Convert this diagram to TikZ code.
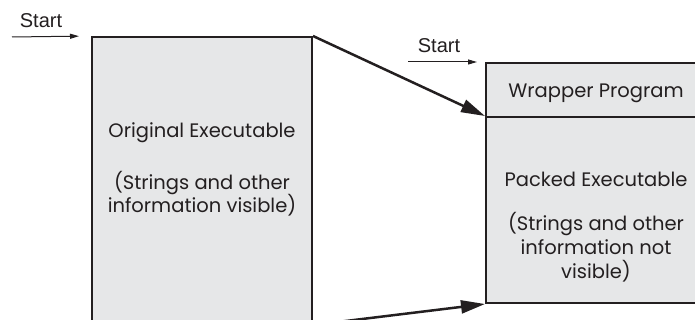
\documentclass[tikz,border=0pt]{standalone}
\usepackage{fontspec}
\setmainfont{Poppins}
\newfontfamily\startfont{Liberation Sans}
\usetikzlibrary{arrows.meta}

\definecolor{boxgray}{HTML}{E6E7E8}
\definecolor{ink}{HTML}{231F20}

\tikzset{
	exebox/.style={rectangle,draw=ink,fill=boxgray,line width=2pt,inner sep=0pt,minimum width=220pt},
	boxtext/.style={anchor=base,align=center,text=ink,font=\fontsize{19.5}{24}\selectfont},
	starttext/.style={anchor=base,text=ink,font=\startfont\fontsize{20}{22}\selectfont},
	startarrow/.style={draw=ink,line width=1pt,-{Triangle[length=9pt,width=5pt]}},
	bigarrow/.style={draw=ink,line width=2.5pt,-{Triangle[length=24pt,width=13pt]}}
}

\begin{document}
\begin{tikzpicture}[x=1pt,y=-1pt]
				\useasboundingbox (0,0) rectangle (695,320);
				\clip (0,0) rectangle (695,320);
				
				\node (orig) at (202,180.5) [exebox,minimum height=287pt] {};
				\node (wrap) at (596,90) [exebox,minimum height=54pt] {};
				\node (packed) at (596,210) [exebox,minimum height=186pt] {};
				
				% multi-line texts sit on the baseline of their last line
				\node (origtitle) at (202,138) [boxtext] {Original Executable};
				\node (originfo) at (202,213) [boxtext] {(Strings and other\\information visible)};
				\node (wraptitle) at (596,98) [boxtext] {Wrapper Program};
				\node (packedtitle) at (596,187) [boxtext] {Packed Executable};
				\node (packedinfo) at (596,278) [boxtext] {(Strings and other\\information not\\visible)};
				
				\node (start1) at (41,28) [starttext] {Start};
				\node (start2) at (439,53) [starttext] {Start};
				\coordinate (s1) at (12,37);
				\coordinate (s2) at (408,62);
				
				\draw[startarrow,shorten >=12pt] (s1) -- (orig.north west);
				\draw[startarrow,shorten >=8pt] (s2) -- (wrap.north west);
				\draw[bigarrow] (orig.north east) -- (packed.north west);
				\draw[bigarrow] (orig.south east) -- (packed.south west);
			\end{tikzpicture}
\end{document}
